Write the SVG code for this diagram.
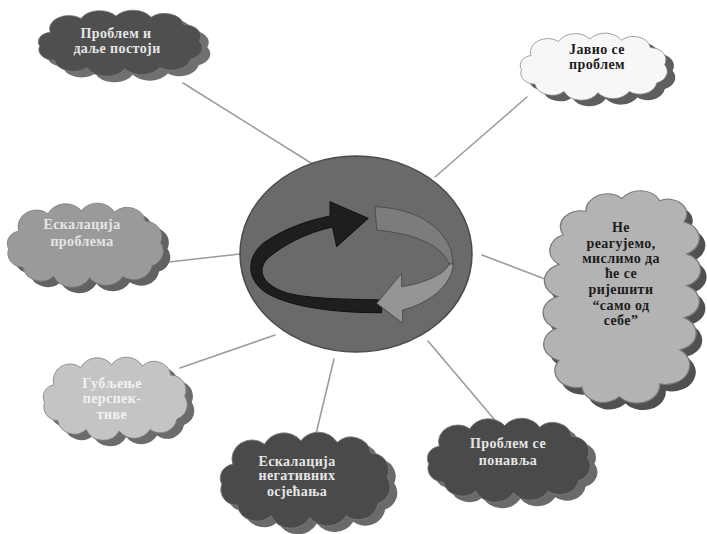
<svg xmlns="http://www.w3.org/2000/svg" xmlns:xlink="http://www.w3.org/1999/xlink" width="707" height="534" viewBox="0 0 707 534">
<style>
.bg{fill:#ffffff}
.conn line{stroke:#9c9c9c;stroke-width:1.6;stroke-linecap:round}
.c{stroke:#7a7a7a;stroke-width:1;vector-effect:non-scaling-stroke}
.sh{stroke:none}
.t{font-family:"Liberation Serif","DejaVu Serif",serif;font-weight:bold;font-size:14px;text-anchor:middle;letter-spacing:0.4px}
.lt{fill:#e6e6e6}
.dk{fill:#1c1c1c}
</style>
<defs>
<path id="cloud" d="M20,35 A22,22 0 0 1 55,12 A24,24 0 0 1 95,8 A24,24 0 0 1 135,10 A22,22 0 0 1 172,22 A20,20 0 0 1 190,50 A20,20 0 0 1 180,80 A22,22 0 0 1 145,94 A24,24 0 0 1 105,96 A24,24 0 0 1 62,94 A22,22 0 0 1 25,82 A18,18 0 0 1 8,58 A16,16 0 0 1 20,35 Z"/>
<path id="cloudTall" d="M25,20 A16,16 0 0 1 52,8 A16,16 0 0 1 80,10 A14,14 0 0 1 98,30 A16,16 0 0 1 100,60 A16,16 0 0 1 100,90 A16,16 0 0 1 98,120 A16,16 0 0 1 95,150 A18,18 0 0 1 80,182 A17,17 0 0 1 50,194 A16,16 0 0 1 22,185 A16,16 0 0 1 5,160 A16,16 0 0 1 3,130 A16,16 0 0 1 4,100 A16,16 0 0 1 5,70 A16,16 0 0 1 8,42 A15,15 0 0 1 25,20 Z"/>
</defs>
<rect class="bg" x="0" y="0" width="707" height="534"/>

<g id="connectors" class="conn">
<line x1="183" y1="83" x2="311" y2="163"/>
<line x1="527" y1="97" x2="435" y2="177"/>
<line x1="482" y1="255" x2="550" y2="281"/>
<line x1="169" y1="262" x2="240" y2="254"/>
<line x1="180" y1="368" x2="275" y2="335"/>
<line x1="334" y1="359" x2="316" y2="434"/>
<line x1="428" y1="341" x2="494" y2="419"/>
</g>

<g id="cycle">
<ellipse cx="356" cy="254" rx="116" ry="98" fill="#6a6a6a" stroke="#4a4a4a" stroke-width="1.5"/>
<path d="M381.7,312.7 C340,313 290,308 265,292 C245,278 247,255 265,242 C285,228 310,220 330,216 L330,201.7 L368.3,218.3 L336.7,246.7 L332.5,227 C305,233 282,246 268,258 C256,270 262,285 287,293 C310,299 345,299 381.7,300 Z" fill="#1e1e1e" stroke="#111" stroke-width="1" stroke-linejoin="round"/>
<path d="M375,206.7 C410,208 440,222 451,250 L453.3,264 L449,264 C444,250 425,235 376.7,230 Z" fill="#7c7c7c" stroke="#4d4d4d" stroke-width="1" stroke-linejoin="round"/>
<path d="M453.3,264 C452,285 430,303 402.7,310 L402.7,323.3 L376.7,303.3 L401.7,273.3 L401.7,286.7 C425,283 445,274 449,264 Z" fill="#959595" stroke="#4d4d4d" stroke-width="1" stroke-linejoin="round"/>
</g>

<g id="n1">
<use xlink:href="#cloud" class="sh" fill="#707070" transform="translate(40.7,17.2) scale(0.877,0.6)"/>
<use xlink:href="#cloud" class="c" fill="#4f4f4f" transform="translate(32.7,11.2) scale(0.877,0.6)"/>
<text class="t lt" x="116" y="38">Проблем и</text>
<text class="t lt" x="117" y="53">даље постоји</text>
</g>

<g id="n2">
<use xlink:href="#cloud" class="sh" fill="#5e5e5e" transform="translate(523.3,40.2) scale(0.786,0.609)"/>
<use xlink:href="#cloud" class="c" fill="#f7f7f7" transform="translate(515.3,34.2) scale(0.786,0.609)"/>
<text class="t dk" x="597" y="54">Јавио се</text>
<text class="t dk" x="597" y="69">проблем</text>
</g>

<g id="n3">
<use xlink:href="#cloudTall" class="sh" fill="#505050" transform="translate(558.4,197) scale(1.342,1.065)"/>
<use xlink:href="#cloudTall" class="c" fill="#b3b3b3" transform="translate(552.4,190) scale(1.342,1.065)"/>
<text class="t dk" x="621" y="232">Не</text>
<text class="t dk" x="621" y="248">реагујемо,</text>
<text class="t dk" x="621" y="263">мислимо да</text>
<text class="t dk" x="621" y="278">ће се</text>
<text class="t dk" x="621" y="294">ријешити</text>
<text class="t dk" x="621" y="310">“само од</text>
<text class="t dk" x="621" y="325">себе”</text>
</g>

<g id="n4">
<use xlink:href="#cloud" class="sh" fill="#626262" transform="translate(9,210.5) scale(0.834,0.764)"/>
<use xlink:href="#cloud" class="c" fill="#9a9a9a" transform="translate(2,204.5) scale(0.834,0.764)"/>
<text class="t lt" x="82" y="229">Ескалација</text>
<text class="t lt" x="82" y="246">проблема</text>
</g>

<g id="n5">
<use xlink:href="#cloud" class="sh" fill="#6c6c6c" transform="translate(45.4,364.5) scale(0.77,0.755)"/>
<use xlink:href="#cloud" class="c" fill="#c4c4c4" transform="translate(38.4,358.5) scale(0.77,0.755)"/>
<text class="t" fill="#f2f2f2" x="112" y="388">Губљење</text>
<text class="t" fill="#f2f2f2" x="112" y="403">перспек-</text>
<text class="t" fill="#f2f2f2" x="112" y="419">тиве</text>
</g>

<g id="n6">
<use xlink:href="#cloud" class="sh" fill="#6a6a6a" transform="translate(221.5,439.7) scale(0.909,0.873)"/>
<use xlink:href="#cloud" class="c" fill="#4a4a4a" transform="translate(214.5,433.7) scale(0.909,0.873)"/>
<text class="t lt" x="297" y="466">Ескалација</text>
<text class="t lt" x="297" y="480">негативних</text>
<text class="t lt" x="297" y="496">осјећања</text>
</g>

<g id="n7">
<use xlink:href="#cloud" class="sh" fill="#6a6a6a" transform="translate(428.8,425.5) scale(0.872,0.764)"/>
<use xlink:href="#cloud" class="c" fill="#4a4a4a" transform="translate(421.8,419.5) scale(0.872,0.764)"/>
<text class="t lt" x="508" y="448">Проблем се</text>
<text class="t lt" x="508" y="465">понавља</text>
</g>
</svg>
